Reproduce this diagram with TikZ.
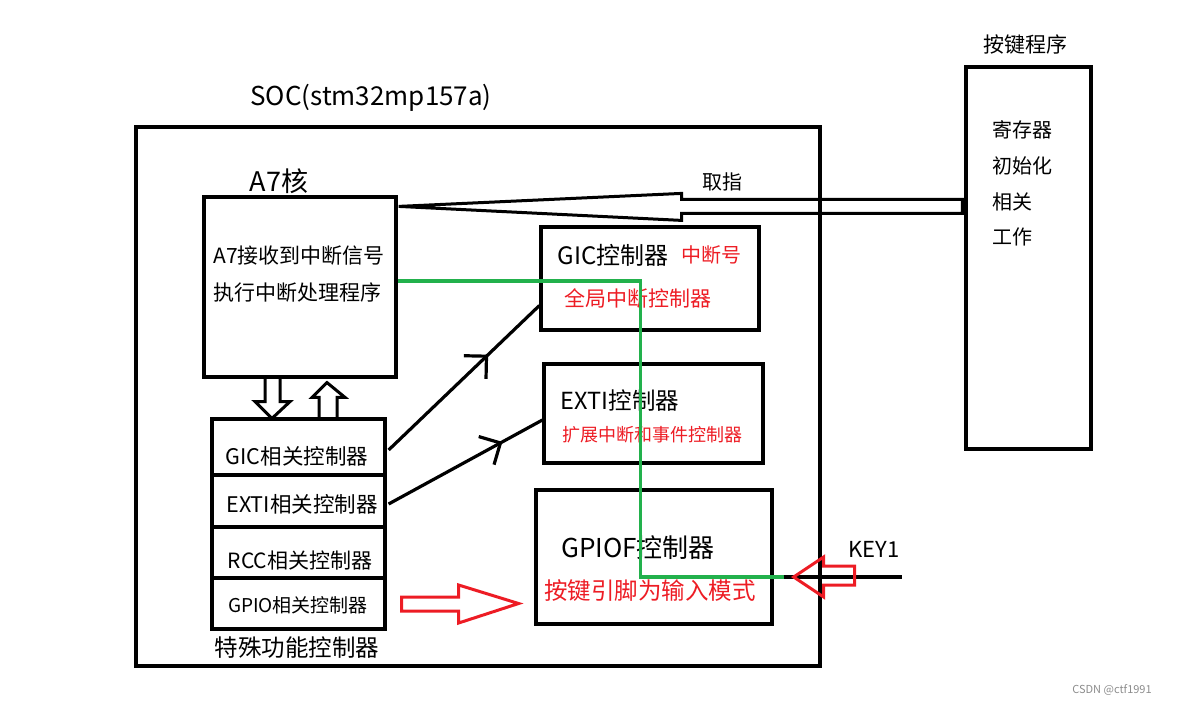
\documentclass[tikz,border=0pt]{standalone}
\usepackage{fontspec}
\setmainfont{Noto Sans CJK SC}
\usetikzlibrary{calc,decorations.markings,arrows.meta}
\definecolor{pred}{RGB}{237,28,36}
\definecolor{pgreen}{RGB}{34,177,76}
\tikzset{
  box/.style={draw=black,line width=3.2pt,inner sep=0pt,fill=none},
  txt/.style={inner sep=0pt,font=\fontsize{#1}{#1}\selectfont},
  rtxt/.style={inner sep=0pt,text=pred,font=\fontsize{#1}{#1}\selectfont},
  blk/.style={draw=black,line width=3pt,line join=miter},
  redarr/.style={draw=pred,line width=3pt,line join=miter},
  wire/.style={draw=black,line width=3.2pt},
  chev/.style={postaction={decorate},decoration={markings,mark=at position #1 with {\arrow[line width=3.2pt]{Straight Barb[length=16pt,width=32pt]}}}}
}
\begin{document}
\begin{tikzpicture}[x=1pt,y=-1pt]
\useasboundingbox (0,0) rectangle (1188,705);
% boxes
\node[box,minimum width=684pt,minimum height=539pt] (soc) at (478,396.5) {};
\node[box,minimum width=192pt,minimum height=180pt] (a7) at (300,287) {};
\node[box,minimum width=125pt,minimum height=382pt] (kp) at (1028.5,258) {};
\node[box,minimum width=218pt,minimum height=103pt] (gic) at (650,278.5) {};
\node[box,minimum width=219pt,minimum height=99pt] (exti) at (653.5,413.5) {};
\node[box,minimum width=236pt,minimum height=134pt] (gpiof) at (654,557) {};
\node[box,minimum width=173pt,minimum height=56pt] (s1) at (298.5,447) {};
\node[box,minimum width=173pt,minimum height=52pt] (s2) at (298.5,501) {};
\node[box,minimum width=173pt,minimum height=51pt] (s3) at (298.5,552.5) {};
\node[box,minimum width=173pt,minimum height=51pt] (s4) at (298.5,603.5) {};
% texts
\node[txt=26] (soct) at (371,98) {SOC(stm32mp157a)};
\node[txt=27] (a7t) at (279,181) {A7核};
\node[txt=21] (a7l1) at (299,256) {A7接收到中断信号};
\node[txt=21] (a7l2) at (297,293) {执行中断处理程序};
\node[txt=20] (qz) at (722,182) {取指};
\node[txt=21] (kpt) at (1025,45) {按键程序};
\node[txt=20,anchor=west] (kp1) at (992,130) {寄存器};
\node[txt=20,anchor=west] (kp2) at (992,166) {初始化};
\node[txt=20,anchor=west] (kp3) at (992,202) {相关};
\node[txt=20,anchor=west] (kp4) at (992,237) {工作};
\node[txt=24] (gict) at (613,255) {GIC控制器};
\node[rtxt=20] (gicn) at (711,255) {中断号};
\node[rtxt=21] (gicd) at (638,298) {全局中断控制器};
\node[txt=23.5] (extit) at (620,401) {EXTI控制器};
\node[rtxt=18] (extid) at (652,435) {扩展中断和事件控制器};
\node[txt=26] (gpioft) at (638,548) {GPIOF控制器};
\node[rtxt=23.5] (gpiofd) at (650,591) {按键引脚为输入模式};
\node[txt=22] (key1) at (874,549) {KEY1};
\node[txt=21.5] (s1t) at (297,456) {GIC相关控制器};
\node[txt=21.5] (s2t) at (302,504) {EXTI相关控制器};
\node[txt=21] (s3t) at (300,560) {RCC相关控制器};
\node[txt=19] (s4t) at (298,605) {GPIO相关控制器};
\node[txt=23.5] (sft) at (297,648) {特殊功能控制器};
\node[inner sep=0pt,text=black!45,font=\fontsize{11}{11}\selectfont] (wm) at (1112,690) {CSDN @ctf1991};
% fetch arrow (hollow, pointing left to A7)
\coordinate (ft) at ($(a7.north east)+(1,11)$);
\coordinate (ftail) at ($(kp.north west)+(-2,141)$);
\draw[blk] (ft) -- ($(ft)+(283,-13)$) -- ($(ft)+(283,-7)$) -- ($(ftail)+(0,-7)$) -- ($(ftail)+(0,7)$) -- ($(ft)+(283,7)$) -- ($(ft)+(283,14)$) -- cycle;
% down / up block arrows between A7 and stack
\draw[blk] ($(a7.south)+(-35,0)$) -- ($(a7.south)+(-35,23)$) -- ($(a7.south)+(-45,23)$) -- ($(s1.north)+(-26.5,1)$) -- ($(a7.south)+(-10,23)$) -- ($(a7.south)+(-20,23)$) -- ($(a7.south)+(-20,0)$);
\draw[blk] ($(s1.north)+(20.5,0)$) -- ($(s1.north)+(20.5,-20)$) -- ($(s1.north)+(13.5,-20)$) -- ($(a7.south)+(27,4)$) -- ($(s1.north)+(46.5,-20)$) -- ($(s1.north)+(38.5,-20)$) -- ($(s1.north)+(38.5,0)$);
% black arrows from stack to GIC / EXTI
\draw[wire,chev=0.66] ($(s1.east)+(2,3)$) -- ($(gic.west)+(0,27)$);
\draw[wire,chev=0.74] ($(s2.east)+(2,3)$) -- ($(exti.west)+(0,6.5)$);
% red hollow arrow from GPIO to GPIOF
\coordinate (rt) at ($(s4.east)+(132,0)$);
\draw[redarr] ($(s4.east)+(15,-6.5)$) -- ($(s4.east)+(72,-6.5)$) -- ($(s4.east)+(72,-18.5)$) -- (rt) -- ($(s4.east)+(72,19.5)$) -- ($(s4.east)+(72,7.5)$) -- ($(s4.east)+(15,7.5)$) -- cycle;
% green path
\coordinate (gend) at ($(gpiof.east)+(10,20)$);
\draw[pgreen,line width=3.5pt] ($(a7.east)+(0,-6)$) -- ++(243,0) |- (gend);
% KEY1 line
\coordinate (kend) at ($(gend)+(118,0)$);
\draw[wire] (gend) -- (kend);
% red hollow arrow pointing left at KEY1
\coordinate (kt) at ($(gend)+(10,0)$);
\draw[redarr] (kt) -- ($(kt)+(30,-20)$) -- ($(kt)+(30,-11)$) -- ($(kt)+(61,-11)$) -- ($(kt)+(61,8)$) -- ($(kt)+(30,8)$) -- ($(kt)+(30,20)$) -- cycle;
\end{tikzpicture}
\end{document}
